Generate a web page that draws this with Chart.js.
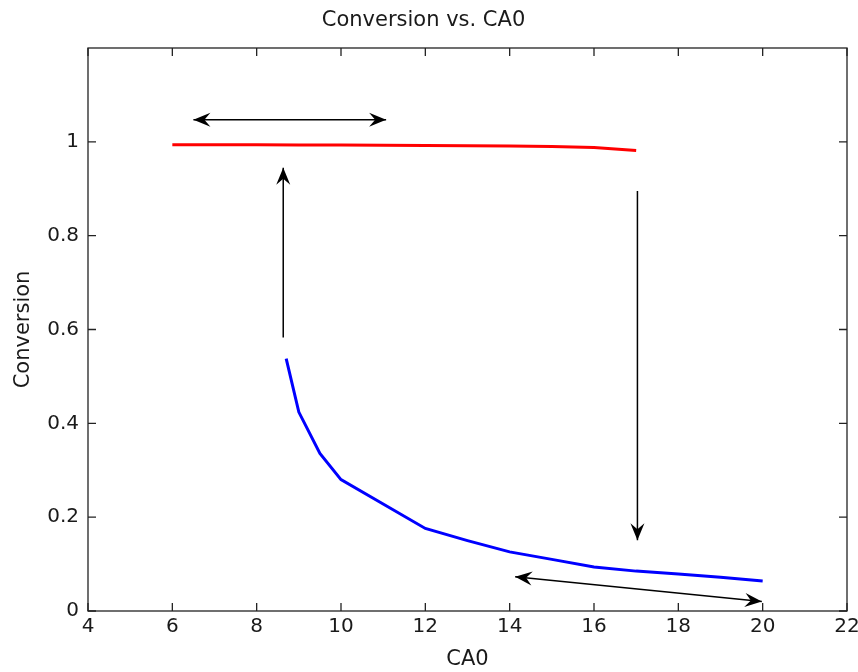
<!DOCTYPE html>
<html>
<head>
<meta charset="utf-8">
<title>Conversion vs. CA0</title>
<script src="https://cdn.jsdelivr.net/npm/chart.js@4"></script>
<style>
  html, body { margin: 0; padding: 0; background: #fff; }
  #chart { display: block; }
</style>
</head>
<body>
<canvas id="chart" width="858" height="672"></canvas>
<script>
// Rama superior (conversión alta)
const caAlta = [6, 7, 8, 9, 10, 11, 12, 13, 14, 15, 16, 17];
const convAlta = [0.994, 0.9939, 0.9937, 0.9935, 0.9932, 0.9928, 0.9923, 0.9917, 0.9909, 0.9898, 0.988, 0.9815];

// Rama inferior (conversión baja)
const caBaja = [8.7, 9, 9.5, 10, 12, 13, 14, 15, 16, 17, 18, 19, 20];
const convBaja = [0.538, 0.424, 0.336, 0.28, 0.176, 0.15, 0.126, 0.11, 0.094, 0.085, 0.079, 0.072, 0.064];

// Marcas de los ejes
const ticksX = [4, 6, 8, 10, 12, 14, 16, 18, 20, 22];
const ticksY = [0, 0.2, 0.4, 0.6, 0.8, 1];

// Flechas de histéresis: [x0, y0, x1, y1, doble punta]
const flechas = [
    [6.5, 1.047, 11.07, 1.047, true],
    [8.63, 0.583, 8.63, 0.945, false],
    [17.03, 0.895, 17.03, 0.151, false],
    [14.13, 0.073, 19.98, 0.02, true]
];

const colorTexto = '#1a1a1a';
const fuente = 'DejaVu Sans';

function puntaFlecha(ctx, xt, yt, ang) {
    // punta estilo "vback" con muesca trasera
    const largo = 17, ancho = 7, muesca = 11;
    const c = Math.cos(ang), s = Math.sin(ang);
    const p = (a, b) => [xt - a * c - b * s, yt - a * s + b * c];
    const b1 = p(largo, ancho), b2 = p(largo, -ancho), m = p(muesca, 0);
    ctx.beginPath();
    ctx.moveTo(xt, yt);
    ctx.lineTo(b1[0], b1[1]);
    ctx.lineTo(m[0], m[1]);
    ctx.lineTo(b2[0], b2[1]);
    ctx.closePath();
    ctx.fill();
}

// Caja completa con marcas hacia adentro en los cuatro lados
const cajaEjes = {
    id: 'cajaEjes',
    afterDraw(chart) {
        const ctx = chart.ctx;
        const a = chart.chartArea;
        const sx = chart.scales.x, sy = chart.scales.y;
        const largo = 8;
        ctx.save();
        ctx.strokeStyle = '#222';
        ctx.lineWidth = 1.3;
        ctx.strokeRect(a.left, a.top, a.right - a.left, a.bottom - a.top);
        ctx.beginPath();
        ticksX.forEach(v => {
            const px = sx.getPixelForValue(v);
            ctx.moveTo(px, a.bottom); ctx.lineTo(px, a.bottom - largo);
            ctx.moveTo(px, a.top); ctx.lineTo(px, a.top + largo);
        });
        ticksY.forEach(v => {
            const py = sy.getPixelForValue(v);
            ctx.moveTo(a.left, py); ctx.lineTo(a.left + largo, py);
            ctx.moveTo(a.right, py); ctx.lineTo(a.right - largo, py);
        });
        ctx.stroke();

        // flechas
        ctx.strokeStyle = '#000';
        ctx.fillStyle = '#000';
        ctx.lineWidth = 1.5;
        flechas.forEach(f => {
            const x0 = sx.getPixelForValue(f[0]), y0 = sy.getPixelForValue(f[1]);
            const x1 = sx.getPixelForValue(f[2]), y1 = sy.getPixelForValue(f[3]);
            const ang = Math.atan2(y1 - y0, x1 - x0);
            ctx.beginPath();
            ctx.moveTo(x0, y0);
            ctx.lineTo(x1, y1);
            ctx.stroke();
            puntaFlecha(ctx, x1, y1, ang);
            if (f[4]) puntaFlecha(ctx, x0, y0, ang + Math.PI);
        });
        ctx.restore();
    }
};

const ctx = document.getElementById('chart').getContext('2d');
new Chart(ctx, {
    type: 'line',
    data: {
        datasets: [
            {
                data: caAlta.map((x, i) => ({ x: x, y: convAlta[i] })),
                borderColor: '#ff0000',
                borderWidth: 3,
                pointRadius: 0,
                tension: 0
            },
            {
                data: caBaja.map((x, i) => ({ x: x, y: convBaja[i] })),
                borderColor: '#0000ff',
                borderWidth: 3,
                pointRadius: 0,
                tension: 0
            }
        ]
    },
    options: {
        responsive: false,
        animation: false,
        layout: { padding: { left: 0, right: 11, top: 0, bottom: 0 } },
        scales: {
            x: {
                type: 'linear',
                min: 4,
                max: 22,
                afterFit(scale) {
                    scale.height = 61;
                    // sin reserva extra para la última etiqueta
                    scale.paddingLeft = 0;
                    scale.paddingRight = 0;
                },
                grid: { display: false, drawTicks: false },
                border: { display: false },
                ticks: {
                    stepSize: 2,
                    padding: 4,
                    maxRotation: 0,
                    color: colorTexto,
                    font: { family: fuente, size: 20 }
                },
                title: {
                    display: true,
                    text: 'CA0',
                    color: colorTexto,
                    padding: { top: 0, bottom: 0 },
                    font: { family: fuente, size: 21 }
                }
            },
            y: {
                type: 'linear',
                min: 0,
                max: 1.2,
                afterFit(scale) { scale.width = 88; },
                grid: { display: false, drawTicks: false },
                border: { display: false },
                ticks: {
                    stepSize: 0.2,
                    padding: 9,
                    color: colorTexto,
                    font: { family: fuente, size: 20 },
                    callback: v => (v > 1.0001 ? '' : String(+v.toFixed(1)))
                },
                title: {
                    display: true,
                    text: 'Conversion',
                    color: colorTexto,
                    padding: { top: 11, bottom: 0 },
                    font: { family: fuente, size: 21 }
                }
            }
        },
        plugins: {
            legend: { display: false },
            tooltip: { enabled: false },
            title: {
                display: true,
                text: 'Conversion vs. CA0',
                color: colorTexto,
                padding: { top: 8, bottom: 14.8 },
                font: { family: fuente, size: 21, weight: 'normal' }
            }
        }
    },
    plugins: [cajaEjes]
});
</script>
</body>
</html>
